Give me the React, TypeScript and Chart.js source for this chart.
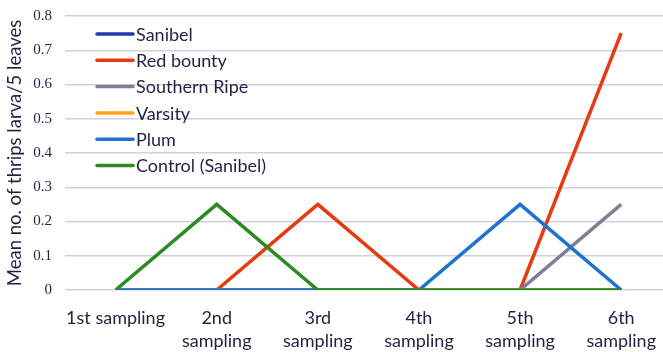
import React, { useEffect, useRef } from "react";
import { Chart, registerables } from "chart.js";

Chart.register(...registerables);

const categories: (string | string[])[] = [
  ["1st sampling"],
  ["2nd", "sampling"],
  ["3rd", "sampling"],
  ["4th", "sampling"],
  ["5th", "sampling"],
  ["6th", "sampling"],
];

const seriesNames = ["Sanibel", "Red bounty", "Southern Ripe", "Varsity", "Plum", "Control (Sanibel)"];
const seriesColors = ["#1F3AB0", "#E63A0F", "#7E7E94", "#FFA31A", "#1F73CE", "#2E8A24"];

const sanibel = [0, 0, 0, 0, 0, 0];
const redBounty = [0, 0, 0.25, 0, 0, 0.75];
const southernRipe = [0, 0, 0, 0, 0, 0.25];
const varsity = [0, 0, 0, 0, 0, 0];
const plum = [0, 0, 0, 0, 0.25, 0];
const control = [0, 0.25, 0, 0, 0, 0];

const seriesValues = [sanibel, redBounty, southernRipe, varsity, plum, control];

const yMin = 0;
const yMax = 0.8;
const yStep = 0.1;

const textColor = "#1E2342";
const sansFont = "Lato, 'Liberation Sans', sans-serif";
const serifFont = "'Liberation Serif', 'DejaVu Serif', serif";

// Legend drawn inside the plot, top-left, as a vertical list of line swatches
const insideLegend = {
  id: "insideLegend",
  afterDraw(chart: Chart) {
    const ctx = chart.ctx;
    const x0 = 97;
    const x1 = 133;
    const top = 34;
    const rowGap = 26.3;
    ctx.save();
    ctx.font = `18px ${sansFont}`;
    ctx.textBaseline = "middle";
    ctx.textAlign = "left";
    chart.data.datasets.forEach((ds: any, i: number) => {
      const y = top + i * rowGap;
      ctx.strokeStyle = ds.borderColor;
      ctx.lineWidth = 3.5;
      ctx.lineCap = "round";
      ctx.beginPath();
      ctx.moveTo(x0, y);
      ctx.lineTo(x1, y);
      ctx.stroke();
      ctx.fillStyle = textColor;
      ctx.fillText(ds.label, x1 + 3, y + 1);
    });
    ctx.restore();
  },
};

export default function App() {
  const canvasRef = useRef<HTMLCanvasElement | null>(null);

  useEffect(() => {
    if (!canvasRef.current) return;
    const chart = new Chart(canvasRef.current, {
      type: "line",
      data: {
        labels: categories,
        datasets: seriesNames.map((name, i) => ({
          label: name,
          data: seriesValues[i],
          borderColor: seriesColors[i],
          backgroundColor: seriesColors[i],
          borderWidth: 3.5,
          pointRadius: 0,
          tension: 0,
          fill: false,
          order: seriesNames.length - i,
        })),
      },
      options: {
        animation: false,
        responsive: true,
        maintainAspectRatio: false,
        layout: { padding: { top: 16, right: 0, left: 0, bottom: 0 } },
        plugins: {
          legend: { display: false },
          tooltip: { enabled: false },
        },
        scales: {
          x: {
            type: "category",
            offset: true,
            grid: { display: false, drawTicks: false },
            border: { display: false },
            ticks: {
              color: textColor,
              font: { family: sansFont, size: 18, lineHeight: 1.3 },
              maxRotation: 0,
              autoSkip: false,
              padding: 16,
            },
            afterFit(scale: any) {
              scale.height = 62;
            },
          },
          y: {
            min: yMin,
            max: yMax,
            grid: { color: "#D3D2DC", lineWidth: 1.5, drawTicks: false },
            border: { display: false },
            ticks: {
              stepSize: yStep,
              color: textColor,
              font: { family: serifFont, size: 15 },
              padding: 13,
            },
            title: {
              display: true,
              text: "Mean no. of thrips larva/5 leaves",
              color: textColor,
              font: { family: sansFont, size: 18.5 },
              padding: { top: 4, bottom: 2 },
            },
            afterFit(scale: any) {
              scale.width = 65;
              scale.paddingTop = 0;
              scale.paddingBottom = 0;
            },
          },
        },
      },
      plugins: [insideLegend],
    });
    return () => chart.destroy();
  }, []);

  return (
    <div style={{ position: "fixed", left: 0, top: 0, width: 672, height: 352, background: "#fff" }}>
      <canvas ref={canvasRef} />
    </div>
  );
}
